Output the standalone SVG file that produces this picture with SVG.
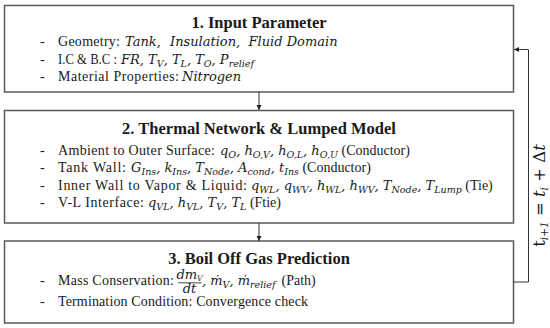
<svg xmlns="http://www.w3.org/2000/svg" width="550" height="328" viewBox="0 0 550 328">
<style>
.box{fill:#fff;stroke:#595959;stroke-width:1.5}
.t{font-family:"Liberation Serif","Times New Roman",serif;font-size:14px;fill:#1a1a1a}
.h{font-family:"Liberation Serif","Times New Roman",serif;font-size:16.5px;font-weight:bold;fill:#1a1a1a;text-anchor:middle}
.m{font-family:"DejaVu Serif",serif;font-style:italic;font-size:13px;fill:#1a1a1a}
.s{font-family:"DejaVu Serif",serif;font-style:italic;font-size:9.5px}
.c{fill:none;stroke:#333;stroke-width:1}
</style>
<defs>
<marker id="ah" markerWidth="6" markerHeight="6" refX="5" refY="3" orient="auto" markerUnits="userSpaceOnUse">
<path d="M0,0.5 L5,3 L0,5.5 Z" fill="#222"/>
</marker>
</defs>
<rect width="550" height="328" fill="#fff"/>
<g id="node1">
<rect class="box" x="4.5" y="5.5" width="509" height="86.5"/>
<text class="h" x="259" y="28">1. Input Parameter</text>
<text class="t" x="40" y="46">-</text>
<text class="t" x="58" y="46" textLength="62" lengthAdjust="spacing">Geometry:</text>
<text class="m" y="46"><tspan x="125">Tank,</tspan><tspan x="170">Insulation,</tspan><tspan x="248.5">Fluid Domain</tspan></text>
<text class="t" x="40" y="63.5">-</text>
<text class="t" x="58" y="63.5" textLength="59" lengthAdjust="spacingAndGlyphs">I.C &amp; B.C :</text>
<text class="m" x="121" y="63.5">FR, T<tspan class="s" dy="3">V</tspan><tspan dy="-3">, T</tspan><tspan class="s" dy="3">L</tspan><tspan dy="-3">, T</tspan><tspan class="s" dy="3">O</tspan><tspan dy="-3">, P</tspan><tspan class="s" dy="3">relief</tspan></text>
<text class="t" x="40" y="81">-</text>
<text class="t" x="58" y="81" textLength="121" lengthAdjust="spacing">Material Properties:</text>
<text class="m" x="182" y="81">Nitrogen</text>
</g>
<g id="node2">
<rect class="box" x="4.5" y="110.5" width="509" height="112.5"/>
<text class="h" x="259" y="134">2. Thermal Network &amp; Lumped Model</text>
<text class="t" x="40" y="154.5">-</text>
<text class="t" x="58" y="154.5" textLength="157" lengthAdjust="spacing">Ambient to Outer Surface:</text>
<text class="t" x="220" y="154.5"><tspan class="m">q</tspan><tspan class="s" dy="3">O</tspan><tspan class="m" dy="-3">, h</tspan><tspan class="s" dy="3">O,V</tspan><tspan class="m" dy="-3">, h</tspan><tspan class="s" dy="3">O,L</tspan><tspan class="m" dy="-3">, h</tspan><tspan class="s" dy="3">O,U</tspan><tspan dy="-3"> (Conductor)</tspan></text>
<text class="t" x="40" y="172">-</text>
<text class="t" x="58" y="172" textLength="68" lengthAdjust="spacing">Tank Wall:</text>
<text class="t" x="131" y="172"><tspan class="m">G</tspan><tspan class="s" dy="3">Ins</tspan><tspan class="m" dy="-3">, k</tspan><tspan class="s" dy="3">Ins</tspan><tspan class="m" dy="-3">, T</tspan><tspan class="s" dy="3">Node</tspan><tspan class="m" dy="-3">, A</tspan><tspan class="s" dy="3">cond</tspan><tspan class="m" dy="-3">, t</tspan><tspan class="s" dy="3">Ins</tspan><tspan dy="-3"> (Conductor)</tspan></text>
<text class="t" x="40" y="189.5">-</text>
<text class="t" x="58" y="189.5" textLength="189" lengthAdjust="spacing">Inner Wall to Vapor &amp; Liquid:</text>
<text class="t" x="251" y="189.5"><tspan class="m">q</tspan><tspan class="s" dy="3">WL</tspan><tspan class="m" dy="-3">, q</tspan><tspan class="s" dy="3">WV</tspan><tspan class="m" dy="-3">, h</tspan><tspan class="s" dy="3">WL</tspan><tspan class="m" dy="-3">, h</tspan><tspan class="s" dy="3">WV</tspan><tspan class="m" dy="-3">, T</tspan><tspan class="s" dy="3">Node</tspan><tspan class="m" dy="-3">, T</tspan><tspan class="s" dy="3">Lump</tspan><tspan dy="-3"> (Tie)</tspan></text>
<text class="t" x="40" y="207">-</text>
<text class="t" x="58" y="207" textLength="86" lengthAdjust="spacing">V-L Interface:</text>
<text class="t" x="148" y="207"><tspan class="m">q</tspan><tspan class="s" dy="3">VL</tspan><tspan class="m" dy="-3">, h</tspan><tspan class="s" dy="3">VL</tspan><tspan class="m" dy="-3">, T</tspan><tspan class="s" dy="3">V</tspan><tspan class="m" dy="-3">, T</tspan><tspan class="s" dy="3">L</tspan><tspan dy="-3"> (Ftie)</tspan></text>
</g>
<g id="node3">
<rect class="box" x="4.5" y="241" width="509" height="82"/>
<text class="h" x="259" y="264">3. Boil Off Gas Prediction</text>
<text class="t" x="40" y="285">-</text>
<text class="t" x="58" y="285" textLength="116" lengthAdjust="spacing">Mass Conservation:</text>
<text class="m" x="189.5" y="279" font-size="10" text-anchor="middle">dm<tspan font-size="7.5" dy="2">V</tspan></text>
<line x1="178" y1="282.8" x2="201.5" y2="282.8" stroke="#1a1a1a" stroke-width="0.8"/>
<text class="m" x="189.5" y="292.5" font-size="10" text-anchor="middle">dt</text>
<text class="t" x="202" y="285"><tspan class="m">, ṁ</tspan><tspan class="s" dy="3">V</tspan><tspan class="m" dy="-3">, ṁ</tspan><tspan class="s" dy="3">relief</tspan><tspan x="281.5" dy="-3">(Path)</tspan></text>
<text class="t" x="40" y="306">-</text>
<text class="t" x="58" y="306" textLength="250" lengthAdjust="spacing">Termination Condition: Convergence check</text>
</g>
<g id="connectors">
<line class="c" x1="259" y1="92" x2="259" y2="110" marker-end="url(#ah)"/>
<line class="c" x1="259" y1="223" x2="259" y2="241" marker-end="url(#ah)"/>
<path class="c" d="M513.5,282 H528.5 V49.5 H514" marker-end="url(#ah)"/>
<text transform="translate(545,195.5) rotate(-90)" text-anchor="middle" font-family="DejaVu Serif, serif" font-size="16.5" fill="#1a1a1a">t<tspan font-size="10.5" font-style="italic" dy="3">i+1</tspan><tspan dy="-3"> = </tspan><tspan font-style="italic">t</tspan><tspan font-size="10.5" font-style="italic" dy="3">i</tspan><tspan dy="-3"> + Δ</tspan><tspan font-style="italic">t</tspan></text>
</g>
</svg>
